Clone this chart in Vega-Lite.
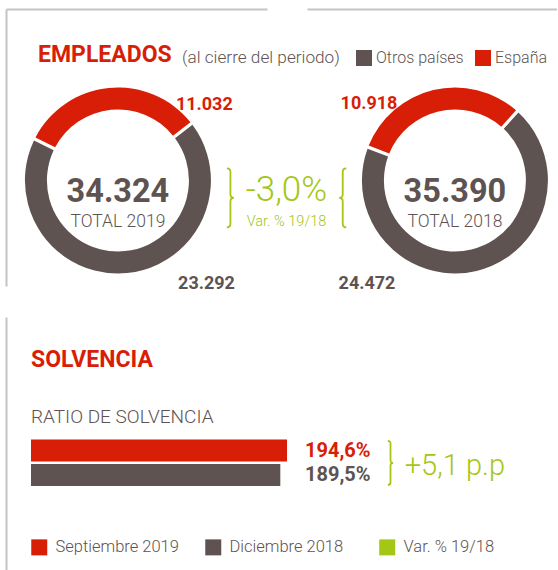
{
  "$schema": "https://vega.github.io/schema/vega-lite/v6.json",
  "padding": {"left": 6, "top": 9, "right": 0, "bottom": 0},
  "background": "white",
  "config": {
    "view": {"stroke": null},
    "font": "Roboto",
    "title": {"font": "Roboto", "subtitleFont": "Roboto"},
    "legend": {"labelFont": "Roboto", "titleFont": "Roboto"},
    "locale": {"number": {"decimal": ",", "thousands": ".", "grouping": [3], "currency": ["", " €"]}}
  },
  "datasets": {
    "empleados": [
      {"anio": "2019", "region": "España", "valor": 11032},
      {"anio": "2019", "region": "Otros países", "valor": 23292},
      {"anio": "2018", "region": "España", "valor": 10918},
      {"anio": "2018", "region": "Otros países", "valor": 24472}
    ],
    "totales": [
      {"anio": "2019", "etiqueta": "TOTAL 2019"},
      {"anio": "2018", "etiqueta": "TOTAL 2018"}
    ],
    "variacion": [{"anio": "var", "texto": "-3,0%", "sub": "Var. % 19/18"}],
    "solvencia": [
      {"periodo": "Septiembre 2019", "ratio": 1.946},
      {"periodo": "Diciembre 2018", "ratio": 1.895}
    ],
    "var_solvencia": [{"texto": "+5,1 p.p"}]
  },
  "spacing": 23,
  "resolve": {"scale": {"color": "independent"}, "legend": {"color": "independent"}},
  "vconcat": [
    {
      "width": 551,
      "height": 277,
      "title": {"text": "EMPLEADOS", "anchor": "start", "frame": "group", "dx": 32, "dy": 58, "offset": 0, "fontSize": 23, "fontWeight": "bold", "color": "#d81e06"},
      "encoding": {
        "x": {"field": "anio", "type": "nominal", "scale": {"type": "point", "domain": ["2019", "var", "2018"], "padding": 0.635, "align": 0.523},
              "axis": {"orient": "top", "labels": false, "ticks": false, "title": null, "grid": false, "domainColor": "#c7c3c1", "domainWidth": 2, "domainDash": [261, 40, 1000]}},
        "y": {"datum": "c", "type": "nominal", "scale": {"type": "point", "domain": ["c"], "align": 0.619},
              "axis": {"orient": "left", "labels": false, "ticks": false, "title": null, "grid": false, "domainColor": "#c7c3c1", "domainWidth": 2}}
      },
      "layer": [
        {
          "data": {"name": "empleados"},
          "transform": [{"filter": "datum.anio === '2019'"}],
          "mark": {"type": "arc", "innerRadius": 71, "outerRadius": 93, "padAngle": 0.028},
          "encoding": {
            "theta": {"field": "valor", "type": "quantitative", "stack": true, "scale": {"range": [-1.108, 5.175]}},
            "color": {"field": "region", "type": "nominal", "scale": {"domain": ["Otros países", "España"], "range": ["#5e5350", "#d81e06"]},
                      "legend": {"orient": "none", "legendX": 176, "legendY": 41, "direction": "horizontal", "title": "(al cierre del periodo)", "titleOrient": "left", "titleFontSize": 17.2, "titleFontWeight": 300, "titleColor": "#5e5350", "titlePadding": 16, "symbolType": "square", "symbolSize": 256, "symbolStrokeWidth": 0, "symbolOpacity": 1, "labelFontSize": 16, "labelFontWeight": 300, "labelColor": "#5e5350", "labelOffset": 4, "columnPadding": 11}},
            "order": {"field": "region", "sort": "ascending"}
          }
        },
        {
          "data": {"name": "empleados"},
          "transform": [{"filter": "datum.anio === '2018'"}],
          "mark": {"type": "arc", "innerRadius": 71, "outerRadius": 93, "padAngle": 0.028},
          "encoding": {
            "theta": {"field": "valor", "type": "quantitative", "stack": true, "scale": {"range": [-1.204, 5.079]}},
            "color": {"field": "region", "type": "nominal"},
            "order": {"field": "region", "sort": "ascending"}
          }
        },
        {
          "data": {"name": "empleados"},
          "transform": [{"aggregate": [{"op": "sum", "field": "valor", "as": "total"}], "groupby": ["anio"]}],
          "mark": {"type": "text", "fontSize": 32.5, "fontWeight": "bold", "color": "#5e5350", "baseline": "alphabetic", "dy": 21.7},
          "encoding": {"text": {"field": "total", "type": "quantitative", "format": ",d"}}
        },
        {
          "data": {"name": "totales"},
          "mark": {"type": "text", "fontSize": 17.5, "fontWeight": 300, "color": "#5e5350", "baseline": "alphabetic", "dy": 47},
          "encoding": {"text": {"field": "etiqueta", "type": "nominal"}}
        },
        {
          "data": {"name": "variacion"},
          "mark": {"type": "text", "fontSize": 35, "fontWeight": 300, "color": "#a4c615", "baseline": "alphabetic", "dy": 20.7},
          "encoding": {"text": {"field": "texto", "type": "nominal"}}
        },
        {
          "data": {"name": "variacion"},
          "mark": {"type": "text", "fontSize": 14.5, "fontWeight": 300, "color": "#a4c615", "baseline": "alphabetic", "dy": 45.7},
          "encoding": {"text": {"field": "sub", "type": "nominal"}}
        },
        {
          "data": {"name": "variacion"},
          "mark": {"type": "point", "shape": "M-0.12,-1 Q0,-1 0,-0.88 L0,-0.12 Q0,0 0.12,0 Q0,0 0,0.12 L0,0.88 Q0,1 -0.12,1", "size": 3481, "filled": false, "stroke": "#a4c615", "strokeWidth": 1.8, "opacity": 1, "xOffset": -56, "yOffset": 17.4},
          "encoding": {}
        },
        {
          "data": {"name": "variacion"},
          "mark": {"type": "point", "shape": "M0.12,-1 Q0,-1 0,-0.88 L0,-0.12 Q0,0 -0.12,0 Q0,0 0,0.12 L0,0.88 Q0,1 0.12,1", "size": 3481, "filled": false, "stroke": "#a4c615", "strokeWidth": 1.8, "opacity": 1, "xOffset": 56.3, "yOffset": 17.4},
          "encoding": {}
        },
        {
          "data": {"name": "empleados"},
          "transform": [{"filter": "datum.anio === '2019' && datum.region === 'España'"}],
          "mark": {"type": "text", "fontSize": 18, "fontWeight": "bold", "color": "#d81e06", "baseline": "middle", "radius": 114.5, "theta": 0.855},
          "encoding": {"text": {"field": "valor", "type": "quantitative", "format": ",d"}}
        },
        {
          "data": {"name": "empleados"},
          "transform": [{"filter": "datum.anio === '2019' && datum.region === 'Otros países'"}],
          "mark": {"type": "text", "fontSize": 18, "fontWeight": "bold", "color": "#5e5350", "baseline": "middle", "radius": 136.6, "theta": 2.436},
          "encoding": {"text": {"field": "valor", "type": "quantitative", "format": ",d"}}
        },
        {
          "data": {"name": "empleados"},
          "transform": [{"filter": "datum.anio === '2018' && datum.region === 'España'"}],
          "mark": {"type": "text", "fontSize": 18, "fontWeight": "bold", "color": "#d81e06", "baseline": "middle", "radius": 114.8, "theta": -0.846},
          "encoding": {"text": {"field": "valor", "type": "quantitative", "format": ",d"}}
        },
        {
          "data": {"name": "empleados"},
          "transform": [{"filter": "datum.anio === '2018' && datum.region === 'Otros países'"}],
          "mark": {"type": "text", "fontSize": 18, "fontWeight": "bold", "color": "#5e5350", "baseline": "middle", "radius": 135.5, "theta": 3.848},
          "encoding": {"text": {"field": "valor", "type": "quantitative", "format": ",d"}}
        }
      ],
      "resolve": {"scale": {"theta": "independent"}}
    },
    {
      "width": 551,
      "height": 253,
      "title": {"text": "SOLVENCIA", "subtitle": "RATIO DE SOLVENCIA", "anchor": "start", "frame": "group", "dx": 25, "dy": 110, "offset": 0, "fontSize": 23, "fontWeight": "bold", "color": "#d81e06", "subtitleFontSize": 19, "subtitleFontWeight": 300, "subtitleColor": "#5e5350", "subtitlePadding": 36},
      "layer": [
        {
          "encoding": {
            "y": {"field": "periodo", "type": "nominal", "sort": ["Septiembre 2019", "Diciembre 2018"], "scale": {"type": "band", "range": [122.5, 169], "paddingInner": 0.094, "paddingOuter": 0}, "axis": null},
            "color": {"field": "periodo", "type": "nominal", "scale": {"domain": ["Septiembre 2019", "Diciembre 2018", "Var. % 19/18"], "range": ["#d81e06", "#5e5350", "#a4c615"]},
                      "legend": {"orient": "none", "legendX": 25, "legendY": 222, "direction": "horizontal", "columns": 3, "gridAlign": "all", "columnPadding": 26, "symbolType": "square", "symbolSize": 256, "symbolStrokeWidth": 0, "symbolOpacity": 1, "labelFontSize": 16.5, "labelFontWeight": 300, "labelColor": "#5e5350", "labelOffset": 8, "title": null}}
          },
          "layer": [
            {
              "data": {"name": "solvencia"},
              "mark": {"type": "bar"},
              "encoding": {
                "x": {"field": "ratio", "type": "quantitative", "scale": {"domain": [-0.19, 3.998], "nice": false, "zero": false}, "axis": null}
              }
            },
            {
              "data": {"name": "solvencia"},
              "transform": [{"joinaggregate": [{"op": "max", "field": "ratio", "as": "max_ratio"}]}],
              "mark": {"type": "text", "align": "left", "dx": 18, "fontSize": 20, "fontWeight": "bold", "baseline": "middle"},
              "encoding": {
                "x": {"field": "max_ratio", "type": "quantitative"},
                "text": {"field": "ratio", "type": "quantitative", "format": ".1%"}
              }
            }
          ]
        },
        {
          "data": {"name": "var_solvencia"},
          "encoding": {
            "y": {"datum": "c", "type": "nominal", "scale": {"type": "point", "domain": ["c"], "align": 0.577},
                  "axis": {"orient": "left", "labels": false, "ticks": false, "title": null, "grid": false, "domainColor": "#c7c3c1", "domainWidth": 2}}
          },
          "layer": [
            {
              "mark": {"type": "point", "shape": "M-0.12,-1 Q0,-1 0,-0.88 L0,-0.12 Q0,0 0.12,0 Q0,0 0,0.12 L0,0.88 Q0,1 -0.12,1", "size": 1936, "filled": false, "stroke": "#a4c615", "strokeWidth": 1.8, "opacity": 1, "xOffset": 109}
            },
            {
              "mark": {"type": "text", "align": "left", "dx": 123.2, "dy": 12, "baseline": "alphabetic", "fontSize": 29, "fontWeight": 300, "color": "#a4c615"},
              "encoding": {"text": {"field": "texto", "type": "nominal"}}
            }
          ]
        }
      ],
      "resolve": {"scale": {"y": "independent"}, "axis": {"y": "independent"}}
    }
  ]
}
